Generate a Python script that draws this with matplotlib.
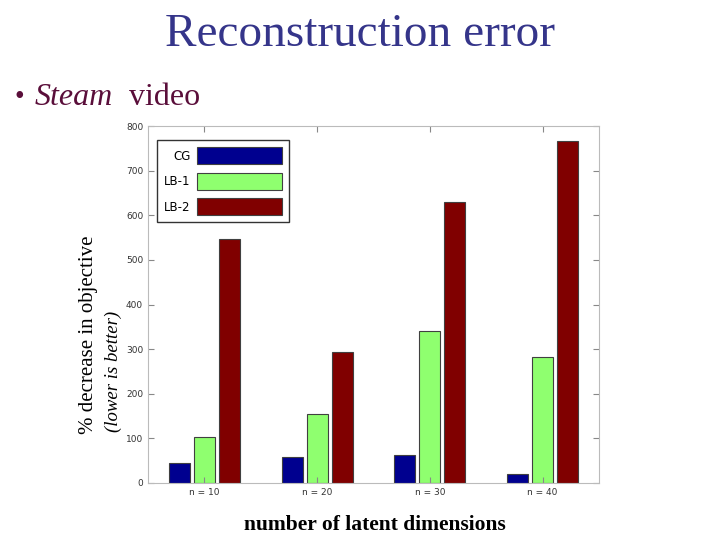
import numpy as np
from matplotlib import pyplot as plt

groups = ['n = 10', 'n = 20', 'n = 30', 'n = 40']
series = ['CG', 'LB-1', 'LB-2']
cg = [45, 58, 63, 20]
lb1 = [103, 155, 341, 283]
lb2 = [547, 294, 630, 767]
yticks = [0, 100, 200, 300, 400, 500, 600, 700, 800]

colors = ['#00008f', '#8fff6f', '#800000']

fig = plt.figure(figsize=(7.2, 5.4), dpi=100)
ax = fig.add_axes([148 / 720, 1 - 483 / 540, 451 / 720, 357 / 540])

x = np.arange(1, len(groups) + 1)
w = 0.186
off = 0.222
for i, (vals, c) in enumerate(zip([cg, lb1, lb2], colors)):
    ax.bar(x + (i - 1) * off, vals, width=w, color=c, edgecolor='#404040',
           linewidth=0.8, label=series[i])

ax.set_xlim(0.5, 4.5)
ax.set_ylim(0, 800)
ax.set_yticks(yticks)
ax.set_xticks(x)
ax.set_xticklabels(groups)
ax.tick_params(axis='both', direction='in', labelsize=6.5, labelcolor='#333333',
               color='#888888', length=4, top=True, right=True)
for s in ax.spines.values():
    s.set_color('#bbbbbb')
    s.set_linewidth(0.8)

leg = ax.legend(loc='upper left', bbox_to_anchor=(0.02, 0.96), fancybox=False,
                edgecolor='black', handlelength=7.2, handleheight=1.8,
                markerfirst=False, fontsize=8.5, borderpad=0.6, labelspacing=0.75,
                handletextpad=0.5, borderaxespad=0)
leg.get_frame().set_linewidth(1.0)

fig.text(0.5, 0.935, 'Reconstruction error', ha='center', va='center',
         fontsize=34, family='Liberation Serif', color='#35358a')
fig.text(0.02, 0.82, '\u2022', ha='left', va='center', fontsize=20,
         family='Liberation Serif', color='#5a0e3a')
fig.text(0.048, 0.82, 'Steam', ha='left', va='center', fontsize=23,
         family='Liberation Serif', style='italic', color='#5a0e3a')
fig.text(0.168, 0.82, ' video', ha='left', va='center', fontsize=23,
         family='Liberation Serif', color='#5a0e3a')

fig.text(88 / 720, 1 - 335 / 540, '% decrease in objective', rotation=90,
         ha='center', va='center', fontsize=15, family='Liberation Serif')
fig.text(113 / 720, 1 - 371 / 540, '(lower is better)', rotation=90,
         ha='center', va='center', fontsize=13.5, family='Liberation Serif',
         style='italic')
fig.text(375 / 720, 1 - 525 / 540, 'number of latent dimensions', ha='center',
         va='center', fontsize=15.5, family='Liberation Serif', weight='bold')

fig.savefig('out.png')
